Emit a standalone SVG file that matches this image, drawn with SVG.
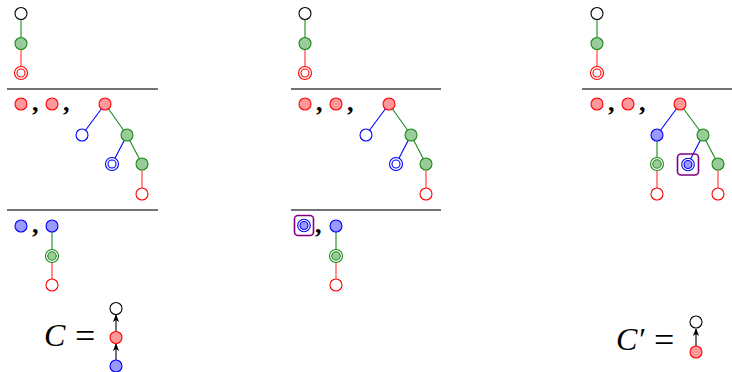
<svg xmlns="http://www.w3.org/2000/svg" width="732" height="372" viewBox="0 0 732 372">
<defs>
<style>
.bg{fill:#fff}
.sep{stroke:#444;stroke-width:1.3}
.eg{stroke:#1a8a1a;stroke-width:1.1;fill:none}
.er{stroke:#ff3030;stroke-width:1.1;fill:none}
.eb{stroke:#0000ff;stroke-width:1.1;fill:none}
.ek{stroke:#000;stroke-width:1.1;fill:none}
.nk{fill:#fff;stroke:#000;stroke-width:1.1}
.ng{fill:#9c9;stroke:#1a8a1a;stroke-width:1.1}
.nr{fill:#ff9999;stroke:#ff0000;stroke-width:1.1}
.nro{fill:#fff;stroke:#ff0000;stroke-width:1.1}
.nb{fill:#9999ff;stroke:#0000ff;stroke-width:1.1}
.nbo{fill:#fff;stroke:#0000ff;stroke-width:1.1}
.ngo{fill:#fff;stroke:#1a8a1a;stroke-width:1.1}
.box{fill:none;stroke:#800080;stroke-width:1.6}
.cm{font-family:"Liberation Serif",serif;font-size:26px;font-weight:bold;fill:#000}
.eq{font-family:"Liberation Serif",serif;font-size:32px;fill:#000}
.eqs{font-family:"Liberation Serif",serif;font-size:36px;fill:#000}
.ci{font-style:italic}
</style>
<marker id="ah" viewBox="0 0 10 10" refX="9" refY="5" markerWidth="7" markerHeight="7" orient="auto">
<path d="M0,1 L10,5 L0,9 L2.5,5 Z" fill="#000"/>
</marker>
</defs>
<rect class="bg" x="0" y="0" width="732" height="372"/>
<g id="separators">
<line class="sep" x1="7" y1="89" x2="158" y2="89"/>
<line class="sep" x1="7" y1="210" x2="158" y2="210"/>
<line class="sep" x1="291" y1="89" x2="441" y2="89"/>
<line class="sep" x1="291" y1="210" x2="441" y2="210"/>
<line class="sep" x1="582" y1="89" x2="732" y2="89"/>
</g>
<g id="connectors">
<line class="eg" x1="21" y1="19.5" x2="21" y2="37.5"/>
<line class="er" x1="21" y1="49.5" x2="21" y2="67"/>
<line class="eb" x1="105" y1="104" x2="82" y2="135"/>
<line class="eg" x1="105" y1="104" x2="127" y2="135"/>
<line class="eb" x1="127" y1="135" x2="112" y2="164"/>
<line class="eg" x1="127" y1="135" x2="142" y2="164"/>
<line class="er" x1="142" y1="170" x2="142" y2="188"/>
<line class="eg" x1="52" y1="232" x2="52" y2="250"/>
<line class="er" x1="52" y1="262" x2="52" y2="279"/>
<line class="eg" x1="305" y1="19.5" x2="305" y2="37.5"/>
<line class="er" x1="305" y1="49.5" x2="305" y2="67"/>
<line class="eb" x1="389" y1="104" x2="366" y2="135"/>
<line class="eg" x1="389" y1="104" x2="411" y2="135"/>
<line class="eb" x1="411" y1="135" x2="396" y2="164"/>
<line class="eg" x1="411" y1="135" x2="426" y2="164"/>
<line class="er" x1="426" y1="170" x2="426" y2="188"/>
<line class="eg" x1="336" y1="232" x2="336" y2="250"/>
<line class="er" x1="336" y1="262" x2="336" y2="279"/>
<line class="eg" x1="597" y1="19.5" x2="597" y2="37.5"/>
<line class="er" x1="597" y1="49.5" x2="597" y2="67"/>
<line class="eb" x1="680" y1="104" x2="657" y2="135"/>
<line class="eg" x1="680" y1="104" x2="703" y2="135"/>
<line class="eg" x1="657" y1="141" x2="657" y2="158"/>
<line class="er" x1="657" y1="170" x2="657" y2="188"/>
<line class="eb" x1="703" y1="135" x2="688" y2="164"/>
<line class="eg" x1="703" y1="135" x2="718" y2="164"/>
<line class="er" x1="718" y1="170" x2="718" y2="188"/>
<line class="ek" x1="116" y1="331" x2="116" y2="315" marker-end="url(#ah)"/>
<line class="ek" x1="116" y1="360" x2="116" y2="344" marker-end="url(#ah)"/>
<line class="ek" x1="696" y1="346" x2="696" y2="329" marker-end="url(#ah)"/>
</g>
<g id="p1-top">
<circle class="nk" cx="21" cy="13.5" r="6"/>
<circle class="ng" cx="21" cy="43.5" r="6"/>
<circle class="nro" cx="21" cy="73" r="6.5"/><circle class="nro" cx="21" cy="73" r="4"/>
</g>
<g id="p1-mid">
<circle class="nr" cx="21" cy="104" r="6"/>
<text class="cm" x="32" y="111">,</text>
<circle class="nr" cx="52" cy="104" r="6"/>
<text class="cm" x="63" y="111">,</text>
<circle class="nr" cx="105" cy="104" r="6"/>
<circle class="nbo" cx="82" cy="135" r="6"/>
<circle class="ng" cx="127" cy="135" r="6"/>
<circle class="nbo" cx="112" cy="164" r="6.5"/><circle class="nbo" cx="112" cy="164" r="4"/>
<circle class="ng" cx="142" cy="164" r="6"/>
<circle class="nro" cx="142" cy="194" r="6"/>
</g>
<g id="p1-bot">
<circle class="nb" cx="21" cy="226" r="6"/>
<text class="cm" x="32" y="233">,</text>
<circle class="nb" cx="52" cy="226" r="6"/>
<circle class="ngo" cx="52" cy="256" r="6.5"/><circle class="ng" cx="52" cy="256" r="4.2"/>
<circle class="nro" cx="52" cy="285" r="6"/>
</g>
<g id="p2-top">
<circle class="nk" cx="305" cy="13.5" r="6"/>
<circle class="ng" cx="305" cy="43.5" r="6"/>
<circle class="nro" cx="305" cy="73" r="6.5"/><circle class="nro" cx="305" cy="73" r="4"/>
</g>
<g id="p2-mid">
<circle class="nr" cx="305" cy="104" r="6"/>
<text class="cm" x="316" y="111">,</text>
<circle class="nr" cx="336" cy="104" r="6"/>
<text class="cm" x="347" y="111">,</text>
<circle class="nr" cx="389" cy="104" r="6"/>
<circle class="nbo" cx="366" cy="135" r="6"/>
<circle class="ng" cx="411" cy="135" r="6"/>
<circle class="nbo" cx="396" cy="164" r="6.5"/><circle class="nbo" cx="396" cy="164" r="4"/>
<circle class="ng" cx="426" cy="164" r="6"/>
<circle class="nro" cx="426" cy="194" r="6"/>
</g>
<g id="p2-bot">
<rect class="box" x="294.5" y="215.5" width="19" height="20" rx="3.5"/>
<circle class="nbo" cx="304" cy="225.5" r="6.3"/><circle class="nb" cx="304" cy="225.5" r="4"/>
<text class="cm" x="315" y="233">,</text>
<circle class="nb" cx="336" cy="226" r="6"/>
<circle class="ngo" cx="336" cy="256" r="6.5"/><circle class="ng" cx="336" cy="256" r="4.2"/>
<circle class="nro" cx="336" cy="285" r="6"/>
</g>
<g id="p3-top">
<circle class="nk" cx="597" cy="13.5" r="6"/>
<circle class="ng" cx="597" cy="43.5" r="6"/>
<circle class="nro" cx="597" cy="73" r="6.5"/><circle class="nro" cx="597" cy="73" r="4"/>
</g>
<g id="p3-mid">
<circle class="nr" cx="597" cy="104" r="6"/>
<text class="cm" x="608" y="111">,</text>
<circle class="nr" cx="628" cy="104" r="6"/>
<text class="cm" x="639" y="111">,</text>
<circle class="nr" cx="680" cy="104" r="6"/>
<circle class="nb" cx="657" cy="135" r="6"/>
<circle class="ng" cx="703" cy="135" r="6"/>
<circle class="ngo" cx="657" cy="164" r="6.5"/><circle class="ng" cx="657" cy="164" r="4.2"/>
<rect class="box" x="677.5" y="154" width="21" height="21" rx="3.5"/>
<circle class="nbo" cx="688" cy="164.5" r="6.3"/><circle class="nb" cx="688" cy="164.5" r="4"/>
<circle class="ng" cx="718" cy="164" r="6"/>
<circle class="nro" cx="657" cy="194" r="6"/>
<circle class="nro" cx="718" cy="194" r="6"/>
</g>
<g id="formula-C">
<text class="eq ci" x="44" y="346">C</text>
<text class="eqs" x="75" y="348">=</text>
<circle class="nk" cx="116" cy="308.5" r="6"/>
<circle class="nr" cx="116" cy="337.5" r="6"/>
<circle class="nb" cx="116" cy="366" r="6"/>
</g>
<g id="formula-Cprime">
<text class="eq ci" x="616" y="350">C′</text>
<text class="eqs" x="654" y="352">=</text>
<circle class="nk" cx="696" cy="322" r="6"/>
<circle class="nr" cx="696" cy="352" r="6"/>
</g>
</svg>
